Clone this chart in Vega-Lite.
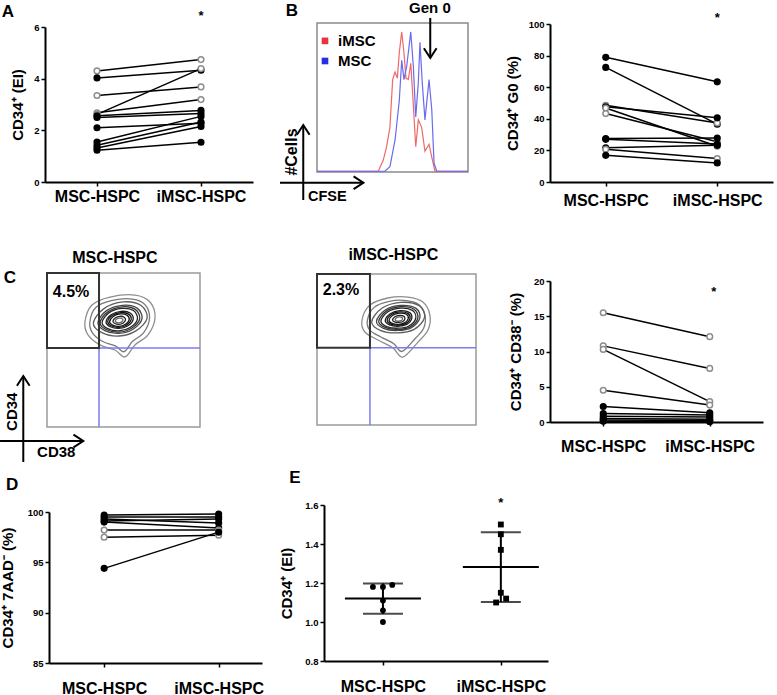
{
"$schema":"https://vega.github.io/schema/vega-lite/v6.json",
"width":777,"height":695,"autosize":{"type":"none"},"padding":0,"background":"white",
"config":{"view":{"stroke":null},"font":"Liberation Sans",
 "axis":{"grid":false,"domainColor":"black","domainWidth":2,"tickColor":"black","tickWidth":1.5,"tickSize":4,"labelColor":"black","labelFont":"Liberation Sans","labelFontWeight":"bold","labelFontSize":9.5,"labelPadding":2,"titleFont":"Liberation Sans","titleFontWeight":"bold","titleFontSize":15,"titleColor":"black","labelOverlap":false,"labelFlush":false}},
"datasets":{
 "A":[
  {"id":1,"g":"MSC-HSPC","v":4.30,"k":"o"},{"id":1,"g":"iMSC-HSPC","v":4.74,"k":"o"},
  {"id":2,"g":"MSC-HSPC","v":4.03,"k":"f"},{"id":2,"g":"iMSC-HSPC","v":4.33,"k":"f"},
  {"id":3,"g":"MSC-HSPC","v":3.35,"k":"o"},{"id":3,"g":"iMSC-HSPC","v":3.68,"k":"o"},
  {"id":4,"g":"MSC-HSPC","v":2.68,"k":"o"},{"id":4,"g":"iMSC-HSPC","v":3.19,"k":"o"},
  {"id":5,"g":"MSC-HSPC","v":2.62,"k":"o"},{"id":5,"g":"iMSC-HSPC","v":4.39,"k":"o"},
  {"id":6,"g":"MSC-HSPC","v":2.56,"k":"f"},{"id":6,"g":"iMSC-HSPC","v":2.77,"k":"f"},
  {"id":7,"g":"MSC-HSPC","v":2.50,"k":"f"},{"id":7,"g":"iMSC-HSPC","v":2.65,"k":"f"},
  {"id":8,"g":"MSC-HSPC","v":2.10,"k":"f"},{"id":8,"g":"iMSC-HSPC","v":2.27,"k":"f"},
  {"id":9,"g":"MSC-HSPC","v":1.55,"k":"f"},{"id":9,"g":"iMSC-HSPC","v":2.54,"k":"f"},
  {"id":10,"g":"MSC-HSPC","v":1.42,"k":"f"},{"id":10,"g":"iMSC-HSPC","v":2.32,"k":"f"},
  {"id":11,"g":"MSC-HSPC","v":1.32,"k":"f"},{"id":11,"g":"iMSC-HSPC","v":2.15,"k":"f"},
  {"id":12,"g":"MSC-HSPC","v":1.23,"k":"f"},{"id":12,"g":"iMSC-HSPC","v":1.54,"k":"f"}],
 "BR":[
  {"id":1,"g":"MSC-HSPC","v":78.9,"k":"f"},{"id":1,"g":"iMSC-HSPC","v":63.4,"k":"f"},
  {"id":2,"g":"MSC-HSPC","v":72.5,"k":"f"},{"id":2,"g":"iMSC-HSPC","v":36.6,"k":"f"},
  {"id":3,"g":"MSC-HSPC","v":48.6,"k":"o"},{"id":3,"g":"iMSC-HSPC","v":37.4,"k":"o"},
  {"id":4,"g":"MSC-HSPC","v":47.6,"k":"f"},{"id":4,"g":"iMSC-HSPC","v":40.6,"k":"f"},
  {"id":5,"g":"MSC-HSPC","v":46.8,"k":"o"},{"id":5,"g":"iMSC-HSPC","v":22.6,"k":"o"},
  {"id":6,"g":"MSC-HSPC","v":43.3,"k":"o"},{"id":6,"g":"iMSC-HSPC","v":25.5,"k":"o"},
  {"id":7,"g":"MSC-HSPC","v":27.5,"k":"f"},{"id":7,"g":"iMSC-HSPC","v":27.8,"k":"f"},
  {"id":8,"g":"MSC-HSPC","v":27.0,"k":"f"},{"id":8,"g":"iMSC-HSPC","v":24.0,"k":"f"},
  {"id":9,"g":"MSC-HSPC","v":21.6,"k":"f"},{"id":9,"g":"iMSC-HSPC","v":23.2,"k":"f"},
  {"id":10,"g":"MSC-HSPC","v":20.7,"k":"o"},{"id":10,"g":"iMSC-HSPC","v":14.8,"k":"o"},
  {"id":11,"g":"MSC-HSPC","v":16.9,"k":"f"},{"id":11,"g":"iMSC-HSPC","v":12.1,"k":"f"}],
 "CR":[
  {"id":1,"g":"MSC-HSPC","v":15.5,"k":"o"},{"id":1,"g":"iMSC-HSPC","v":12.1,"k":"o"},
  {"id":2,"g":"MSC-HSPC","v":10.8,"k":"o"},{"id":2,"g":"iMSC-HSPC","v":7.6,"k":"o"},
  {"id":3,"g":"MSC-HSPC","v":10.3,"k":"o"},{"id":3,"g":"iMSC-HSPC","v":2.9,"k":"o"},
  {"id":4,"g":"MSC-HSPC","v":4.5,"k":"o"},{"id":4,"g":"iMSC-HSPC","v":2.4,"k":"o"},
  {"id":5,"g":"MSC-HSPC","v":2.2,"k":"f"},{"id":5,"g":"iMSC-HSPC","v":1.3,"k":"f"},
  {"id":6,"g":"MSC-HSPC","v":1.2,"k":"f"},{"id":6,"g":"iMSC-HSPC","v":1.0,"k":"f"},
  {"id":7,"g":"MSC-HSPC","v":0.8,"k":"f"},{"id":7,"g":"iMSC-HSPC","v":0.7,"k":"f"},
  {"id":8,"g":"MSC-HSPC","v":0.5,"k":"f"},{"id":8,"g":"iMSC-HSPC","v":0.4,"k":"f"},
  {"id":9,"g":"MSC-HSPC","v":0.3,"k":"f"},{"id":9,"g":"iMSC-HSPC","v":0.2,"k":"f"},
  {"id":10,"g":"MSC-HSPC","v":0.1,"k":"f"},{"id":10,"g":"iMSC-HSPC","v":0.05,"k":"f"}],
 "D":[
  {"id":1,"g":"MSC-HSPC","v":99.7,"k":"f"},{"id":1,"g":"iMSC-HSPC","v":99.8,"k":"f"},
  {"id":2,"g":"MSC-HSPC","v":99.5,"k":"f"},{"id":2,"g":"iMSC-HSPC","v":99.5,"k":"f"},
  {"id":3,"g":"MSC-HSPC","v":99.3,"k":"f"},{"id":3,"g":"iMSC-HSPC","v":98.9,"k":"f"},
  {"id":4,"g":"MSC-HSPC","v":99.1,"k":"f"},{"id":4,"g":"iMSC-HSPC","v":99.3,"k":"f"},
  {"id":5,"g":"MSC-HSPC","v":99.0,"k":"f"},{"id":5,"g":"iMSC-HSPC","v":98.4,"k":"f"},
  {"id":6,"g":"MSC-HSPC","v":98.2,"k":"o"},{"id":6,"g":"iMSC-HSPC","v":98.2,"k":"o"},
  {"id":7,"g":"MSC-HSPC","v":97.5,"k":"o"},{"id":7,"g":"iMSC-HSPC","v":97.7,"k":"o"},
  {"id":8,"g":"MSC-HSPC","v":94.4,"k":"f"},{"id":8,"g":"iMSC-HSPC","v":98.0,"k":"f"}],
 "E":[
  {"gi":1,"xj":0.915,"v":1.18},{"gi":1,"xj":1.0,"v":1.18},{"gi":1,"xj":1.079,"v":1.19},
  {"gi":1,"xj":1.0,"v":1.11},{"gi":1,"xj":1.0,"v":1.06},{"gi":1,"xj":1.0,"v":1.00},
  {"gi":2,"xj":2.0,"v":1.50},{"gi":2,"xj":2.0,"v":1.45},{"gi":2,"xj":2.0,"v":1.37},
  {"gi":2,"xj":2.0,"v":1.15},{"gi":2,"xj":2.045,"v":1.12},{"gi":2,"xj":1.96,"v":1.10}],
 "HIST":[
  {"s":"iMSC","x":0,"y":0.5},{"s":"iMSC","x":40.6,"y":0.5},{"s":"iMSC","x":43.9,"y":8},{"s":"iMSC","x":46.1,"y":17},{"s":"iMSC","x":48.3,"y":30},{"s":"iMSC","x":50.1,"y":62},{"s":"iMSC","x":51.7,"y":67},{"s":"iMSC","x":53.2,"y":63},{"s":"iMSC","x":54.5,"y":80},{"s":"iMSC","x":56.1,"y":94},{"s":"iMSC","x":57.6,"y":80},{"s":"iMSC","x":58.9,"y":63},{"s":"iMSC","x":60.5,"y":62},{"s":"iMSC","x":62.1,"y":73},{"s":"iMSC","x":63.8,"y":45},{"s":"iMSC","x":65.4,"y":17},{"s":"iMSC","x":67.1,"y":35},{"s":"iMSC","x":69.3,"y":30},{"s":"iMSC","x":71.5,"y":14},{"s":"iMSC","x":74.2,"y":18.6},{"s":"iMSC","x":76.0,"y":10},{"s":"iMSC","x":78.1,"y":0.5},{"s":"iMSC","x":100,"y":0.5},
  {"s":"MSC","x":0,"y":0.5},{"s":"MSC","x":45,"y":0.5},{"s":"MSC","x":48.3,"y":3.6},{"s":"MSC","x":51.7,"y":21.5},{"s":"MSC","x":54.5,"y":48},{"s":"MSC","x":56.1,"y":75},{"s":"MSC","x":57.6,"y":62},{"s":"MSC","x":59.4,"y":71},{"s":"MSC","x":62.1,"y":94},{"s":"MSC","x":63.8,"y":71},{"s":"MSC","x":65.4,"y":37},{"s":"MSC","x":67.1,"y":60},{"s":"MSC","x":68.2,"y":87},{"s":"MSC","x":69.7,"y":60},{"s":"MSC","x":71.5,"y":35},{"s":"MSC","x":74.2,"y":62},{"s":"MSC","x":76.0,"y":42},{"s":"MSC","x":77.5,"y":6},{"s":"MSC","x":79.3,"y":0.5},{"s":"MSC","x":100,"y":0.5}],
 "CL":[
  {"r":1,"k":0,"x":24.8,"y":68.2},{"r":1,"k":1,"x":29.4,"y":79.2},{"r":1,"k":2,"x":41.2,"y":84.4},{"r":1,"k":3,"x":57.5,"y":85.7},{"r":1,"k":4,"x":67.3,"y":81.2},{"r":1,"k":5,"x":70.6,"y":70.8},{"r":1,"k":6,"x":66.0,"y":59.8},{"r":1,"k":7,"x":57.5,"y":53.3},{"r":1,"k":8,"x":51.0,"y":45.5},{"r":1,"k":9,"x":44.4,"y":50.0},{"r":1,"k":10,"x":34.6,"y":53.3},{"r":1,"k":11,"x":26.8,"y":59.8},
  {"r":2,"k":0,"x":28.0,"y":68.2},{"r":2,"k":1,"x":31.9,"y":77.6},{"r":2,"k":2,"x":42.0,"y":82.0},{"r":2,"k":3,"x":55.8,"y":83.1},{"r":2,"k":4,"x":64.2,"y":79.3},{"r":2,"k":5,"x":67.0,"y":70.4},{"r":2,"k":6,"x":63.1,"y":61.1},{"r":2,"k":7,"x":55.8,"y":55.5},{"r":2,"k":8,"x":50.3,"y":48.9},{"r":2,"k":9,"x":44.7,"y":52.7},{"r":2,"k":10,"x":36.4,"y":55.5},{"r":2,"k":11,"x":29.7,"y":61.1},
  {"r":3,"k":0,"x":30.3,"y":67.4},{"r":3,"k":1,"x":37.0,"y":76.7},{"r":3,"k":2,"x":49.8,"y":81.2},{"r":3,"k":3,"x":61.5,"y":78.9},{"r":3,"k":4,"x":65.4,"y":70.6},{"r":3,"k":5,"x":58.1,"y":62.4},{"r":3,"k":6,"x":47.0,"y":59.1},{"r":3,"k":7,"x":35.9,"y":61.3},
  {"r":4,"k":0,"x":33.3,"y":67.7},{"r":4,"k":1,"x":38.7,"y":75.4},{"r":4,"k":2,"x":49.3,"y":79.0},{"r":4,"k":3,"x":58.9,"y":77.2},{"r":4,"k":4,"x":62.1,"y":70.3},{"r":4,"k":5,"x":56.2,"y":63.5},{"r":4,"k":6,"x":47.0,"y":60.8},{"r":4,"k":7,"x":37.8,"y":62.6},
  {"r":5,"k":0,"x":34.7,"y":67.8},{"r":5,"k":1,"x":39.6,"y":74.7},{"r":5,"k":2,"x":49.1,"y":78.0},{"r":5,"k":3,"x":57.7,"y":76.4},{"r":5,"k":4,"x":60.6,"y":70.2},{"r":5,"k":5,"x":55.3,"y":64.1},{"r":5,"k":6,"x":47.0,"y":61.6},{"r":5,"k":7,"x":38.7,"y":63.3},
  {"r":6,"k":0,"x":36.0,"y":67.9},{"r":6,"k":1,"x":40.4,"y":74.1},{"r":6,"k":2,"x":48.8,"y":77.0},{"r":6,"k":3,"x":56.5,"y":75.6},{"r":6,"k":4,"x":59.1,"y":70.1},{"r":6,"k":5,"x":54.3,"y":64.6},{"r":6,"k":6,"x":47.0,"y":62.4},{"r":6,"k":7,"x":39.7,"y":63.9},
  {"r":7,"k":0,"x":38.6,"y":68.2},{"r":7,"k":1,"x":41.9,"y":72.9},{"r":7,"k":2,"x":48.4,"y":75.1},{"r":7,"k":3,"x":54.3,"y":74.0},{"r":7,"k":4,"x":56.3,"y":69.8},{"r":7,"k":5,"x":52.6,"y":65.6},{"r":7,"k":6,"x":47.0,"y":64.0},{"r":7,"k":7,"x":41.4,"y":65.1},
  {"r":8,"k":0,"x":39.7,"y":68.3},{"r":8,"k":1,"x":42.6,"y":72.4},{"r":8,"k":2,"x":48.2,"y":74.3},{"r":8,"k":3,"x":53.3,"y":73.3},{"r":8,"k":4,"x":55.0,"y":69.7},{"r":8,"k":5,"x":51.8,"y":66.1},{"r":8,"k":6,"x":47.0,"y":64.7},{"r":8,"k":7,"x":42.2,"y":65.6},
  {"r":9,"k":0,"x":40.9,"y":68.4},{"r":9,"k":1,"x":43.3,"y":71.8},{"r":9,"k":2,"x":48.0,"y":73.4},{"r":9,"k":3,"x":52.3,"y":72.6},{"r":9,"k":4,"x":53.7,"y":69.6},{"r":9,"k":5,"x":51.1,"y":66.6},{"r":9,"k":6,"x":47.0,"y":65.4},{"r":9,"k":7,"x":42.9,"y":66.2},
  {"r":10,"k":0,"x":43.1,"y":68.6},{"r":10,"k":1,"x":44.6,"y":70.8},{"r":10,"k":2,"x":47.7,"y":71.9},{"r":10,"k":3,"x":50.4,"y":71.3},{"r":10,"k":4,"x":51.3,"y":69.4},{"r":10,"k":5,"x":49.6,"y":67.4},{"r":10,"k":6,"x":47.0,"y":66.7},{"r":10,"k":7,"x":44.4,"y":67.2},
  {"r":11,"k":0,"x":44.6,"y":68.8},{"r":11,"k":1,"x":45.6,"y":70.1},{"r":11,"k":2,"x":47.4,"y":70.7},{"r":11,"k":3,"x":49.0,"y":70.4},{"r":11,"k":4,"x":49.6,"y":69.2},{"r":11,"k":5,"x":48.6,"y":68.1},{"r":11,"k":6,"x":47.0,"y":67.6},{"r":11,"k":7,"x":45.4,"y":67.9}],
 "CM":[
  {"r":1,"k":0,"x":28.3,"y":69.5},{"r":1,"k":1,"x":33.3,"y":79.4},{"r":1,"k":2,"x":44.6,"y":84.1},{"r":1,"k":3,"x":57.2,"y":84.7},{"r":1,"k":4,"x":66.6,"y":81.4},{"r":1,"k":5,"x":71.0,"y":72.8},{"r":1,"k":6,"x":69.8,"y":62.9},{"r":1,"k":7,"x":63.5,"y":54.9},{"r":1,"k":8,"x":54.0,"y":45.0},{"r":1,"k":9,"x":47.8,"y":51.0},{"r":1,"k":10,"x":38.3,"y":56.3},{"r":1,"k":11,"x":30.1,"y":61.6},
  {"r":2,"k":0,"x":31.7,"y":69.5},{"r":2,"k":1,"x":35.9,"y":77.9},{"r":2,"k":2,"x":45.5,"y":81.9},{"r":2,"k":3,"x":56.3,"y":82.4},{"r":2,"k":4,"x":64.2,"y":79.6},{"r":2,"k":5,"x":68.0,"y":72.3},{"r":2,"k":6,"x":67.0,"y":63.9},{"r":2,"k":7,"x":61.6,"y":57.1},{"r":2,"k":8,"x":53.5,"y":48.7},{"r":2,"k":9,"x":48.3,"y":53.8},{"r":2,"k":10,"x":40.2,"y":58.3},{"r":2,"k":11,"x":33.2,"y":62.8},
  {"r":3,"k":0,"x":34.4,"y":68.3},{"r":3,"k":1,"x":40.8,"y":77.3},{"r":3,"k":2,"x":52.6,"y":81.2},{"r":3,"k":3,"x":64.3,"y":79.0},{"r":3,"k":4,"x":67.6,"y":71.1},{"r":3,"k":5,"x":61.1,"y":63.3},{"r":3,"k":6,"x":50.4,"y":61.0},{"r":3,"k":7,"x":39.8,"y":62.7},
  {"r":4,"k":0,"x":37.4,"y":68.6},{"r":4,"k":1,"x":42.7,"y":76.0},{"r":4,"k":2,"x":52.4,"y":79.2},{"r":4,"k":3,"x":62.1,"y":77.4},{"r":4,"k":4,"x":64.7,"y":70.9},{"r":4,"k":5,"x":59.4,"y":64.5},{"r":4,"k":6,"x":50.6,"y":62.6},{"r":4,"k":7,"x":41.8,"y":64.0},
  {"r":5,"k":0,"x":38.8,"y":68.7},{"r":5,"k":1,"x":43.6,"y":75.4},{"r":5,"k":2,"x":52.3,"y":78.3},{"r":5,"k":3,"x":61.0,"y":76.7},{"r":5,"k":4,"x":63.4,"y":70.8},{"r":5,"k":5,"x":58.6,"y":65.0},{"r":5,"k":6,"x":50.7,"y":63.3},{"r":5,"k":7,"x":42.8,"y":64.6},
  {"r":6,"k":0,"x":40.2,"y":68.9},{"r":6,"k":1,"x":44.4,"y":74.8},{"r":6,"k":2,"x":52.2,"y":77.4},{"r":6,"k":3,"x":60.0,"y":75.9},{"r":6,"k":4,"x":62.1,"y":70.7},{"r":6,"k":5,"x":57.8,"y":65.6},{"r":6,"k":6,"x":50.8,"y":64.1},{"r":6,"k":7,"x":43.8,"y":65.2},
  {"r":7,"k":0,"x":42.9,"y":69.1},{"r":7,"k":1,"x":46.1,"y":73.7},{"r":7,"k":2,"x":52.1,"y":75.7},{"r":7,"k":3,"x":58.0,"y":74.6},{"r":7,"k":4,"x":59.6,"y":70.6},{"r":7,"k":5,"x":56.4,"y":66.6},{"r":7,"k":6,"x":50.9,"y":65.4},{"r":7,"k":7,"x":45.6,"y":66.3},
  {"r":8,"k":0,"x":44.1,"y":69.3},{"r":8,"k":1,"x":46.8,"y":73.2},{"r":8,"k":2,"x":52.0,"y":74.9},{"r":8,"k":3,"x":57.1,"y":73.9},{"r":8,"k":4,"x":58.5,"y":70.5},{"r":8,"k":5,"x":55.7,"y":67.1},{"r":8,"k":6,"x":51.0,"y":66.1},{"r":8,"k":7,"x":46.4,"y":66.8},
  {"r":9,"k":0,"x":45.3,"y":69.4},{"r":9,"k":1,"x":47.6,"y":72.7},{"r":9,"k":2,"x":51.9,"y":74.1},{"r":9,"k":3,"x":56.2,"y":73.3},{"r":9,"k":4,"x":57.4,"y":70.4},{"r":9,"k":5,"x":55.0,"y":67.6},{"r":9,"k":6,"x":51.1,"y":66.7},{"r":9,"k":7,"x":47.2,"y":67.3},
  {"r":10,"k":0,"x":47.5,"y":69.6},{"r":10,"k":1,"x":49.0,"y":71.7},{"r":10,"k":2,"x":51.8,"y":72.6},{"r":10,"k":3,"x":54.5,"y":72.1},{"r":10,"k":4,"x":55.3,"y":70.3},{"r":10,"k":5,"x":53.8,"y":68.4},{"r":10,"k":6,"x":51.2,"y":67.9},{"r":10,"k":7,"x":48.7,"y":68.3},
  {"r":11,"k":0,"x":49.1,"y":69.8},{"r":11,"k":1,"x":50.0,"y":71.0},{"r":11,"k":2,"x":51.7,"y":71.6},{"r":11,"k":3,"x":53.3,"y":71.3},{"r":11,"k":4,"x":53.8,"y":70.2},{"r":11,"k":5,"x":52.9,"y":69.1},{"r":11,"k":6,"x":51.3,"y":68.7},{"r":11,"k":7,"x":49.8,"y":69.0}]
},
"resolve":{"scale":{"x":"independent","y":"independent","color":"independent","fill":"independent","stroke":"independent","shape":"independent"},"axis":{"x":"independent","y":"independent"}},
"layer":[
 {"data":{"name":"A"},
  "encoding":{
   "x":{"field":"g","type":"nominal","scale":{"type":"point","domain":["MSC-HSPC","iMSC-HSPC"],"range":[45,253],"padding":0.5},"axis":{"orient":"bottom","offset":-513,"title":null,"labelAngle":0,"labelFontSize":16,"labelPadding":2}},
   "y":{"field":"v","type":"quantitative","scale":{"domain":[0,6],"range":[182,27],"nice":false,"zero":false},"axis":{"orient":"left","offset":-45,"values":[0,2,4,6],"title":"CD34⁺ (EI)","titlePadding":8.7}}},
  "layer":[
   {"mark":{"type":"line","color":"black","strokeWidth":1.5},"encoding":{"detail":{"field":"id","type":"nominal"}}},
   {"mark":{"type":"circle","size":32,"strokeWidth":1.5,"opacity":1},"encoding":{"fill":{"field":"k","type":"nominal","scale":{"domain":["o","f"],"range":["white","black"]},"legend":null},"stroke":{"field":"k","type":"nominal","scale":{"domain":["o","f"],"range":["#8c8c8c","black"]},"legend":null}}},
   {"data":{"values":[{"g":"MSC-HSPC","v":6.6,"t":"A"}]},"mark":{"type":"text","font":"Liberation Sans","fontWeight":"bold","fontSize":17,"align":"center","baseline":"middle","color":"black","dx":-89},"encoding":{"text":{"field":"t"}}},
   {"data":{"values":[{"g":"iMSC-HSPC","v":6.43,"t":"*"}]},"mark":{"type":"text","font":"Liberation Sans","fontWeight":"bold","fontSize":13,"align":"center","baseline":"middle","color":"black"},"encoding":{"text":{"field":"t"}}}
  ]},
 {"encoding":{
   "x":{"field":"x","type":"quantitative","scale":{"domain":[0,100],"range":[317,468],"nice":false,"zero":false},"axis":null},
   "y":{"field":"y","type":"quantitative","scale":{"domain":[0,100],"range":[172,23],"nice":false,"zero":false},"axis":null}},
  "layer":[
   {"data":{"values":[{"x":0,"x2":100,"y":0,"y2":100}]},"mark":{"type":"rect","fillOpacity":0,"stroke":"#8a8a8a","strokeWidth":1.5},"encoding":{"x2":{"field":"x2"},"y2":{"field":"y2"}}},
   {"data":{"name":"HIST"},"mark":{"type":"line","strokeWidth":1.2},"encoding":{"color":{"field":"s","type":"nominal","scale":{"domain":["iMSC","MSC"],"range":["#f06868","#6a6af0"]},"legend":null}}},
   {"data":{"values":[{"s":"iMSC","x":5.3,"y":88},{"s":"MSC","x":5.3,"y":74.5}]},"mark":{"type":"point","shape":"square","filled":true,"size":44,"opacity":1},"encoding":{"fill":{"field":"s","type":"nominal","scale":{"domain":["iMSC","MSC"],"range":["#e8323c","#2b2bdf"]},"legend":null}}},
   {"data":{"values":[{"s":"iMSC","x":5.3,"y":88},{"s":"MSC","x":5.3,"y":74.5}]},"mark":{"type":"text","font":"Liberation Sans","fontWeight":"bold","fontSize":15,"align":"left","baseline":"middle","color":"black","dx":13},"encoding":{"text":{"field":"s"}}},
   {"data":{"values":[{"x":75,"x2":75,"y":103.4,"y2":76.5},{"x":-9.1,"x2":-9.1,"y":-18.8,"y2":31.5},{"x":-24.5,"x2":30.7,"y":-7.2,"y2":-7.2}]},"mark":{"type":"rule","color":"black","strokeWidth":2},"encoding":{"x2":{"field":"x2"},"y2":{"field":"y2"}}},
   {"data":{"values":[{"x":75,"y":76.5,"d":"down"},{"x":-9.1,"y":31.5,"d":"up"},{"x":30.7,"y":-7.2,"d":"right"}]},"mark":{"type":"point","filled":false,"color":"black","strokeWidth":2,"size":380,"opacity":1},"encoding":{"shape":{"field":"d","type":"nominal","scale":{"domain":["up","down","right"],"range":["M-0.65,1L0,0L0.65,1","M-0.65,-1L0,0L0.65,-1","M-1,-0.65L0,0L-1,0.65"]},"legend":null}}},
   {"data":{"values":[{"x":-16.6,"y":108,"t":"B"}]},"mark":{"type":"text","font":"Liberation Sans","fontWeight":"bold","fontSize":17,"align":"center","baseline":"middle","color":"black"},"encoding":{"text":{"field":"t"}}},
   {"data":{"values":[{"x":74.8,"y":110,"t":"Gen 0"}]},"mark":{"type":"text","font":"Liberation Sans","fontWeight":"bold","fontSize":15,"align":"center","baseline":"middle","color":"black"},"encoding":{"text":{"field":"t"}}},
   {"data":{"values":[{"x":-16.6,"y":13.4,"t":"#Cells"}]},"mark":{"type":"text","font":"Liberation Sans","fontWeight":"bold","fontSize":16,"align":"center","baseline":"middle","angle":270,"color":"black"},"encoding":{"text":{"field":"t"}}},
   {"data":{"values":[{"x":-6,"y":-17.1,"t":"CFSE"}]},"mark":{"type":"text","font":"Liberation Sans","fontWeight":"bold","fontSize":14.5,"align":"left","baseline":"middle","color":"black"},"encoding":{"text":{"field":"t"}}}
  ]},
 {"data":{"name":"BR"},
  "encoding":{
   "x":{"field":"g","type":"nominal","scale":{"type":"point","domain":["MSC-HSPC","iMSC-HSPC"],"range":[550,773],"padding":0.5},"axis":{"orient":"bottom","offset":-513,"title":null,"labelAngle":0,"labelFontSize":16,"labelPadding":6}},
   "y":{"field":"v","type":"quantitative","scale":{"domain":[0,100],"range":[182,24],"nice":false,"zero":false},"axis":{"orient":"left","offset":-550,"values":[0,20,40,60,80,100],"title":"CD34⁺ G0 (%)","titlePadding":8}}},
  "layer":[
   {"mark":{"type":"line","color":"black","strokeWidth":1.5},"encoding":{"detail":{"field":"id","type":"nominal"}}},
   {"mark":{"type":"circle","size":32,"strokeWidth":1.5,"opacity":1},"encoding":{"fill":{"field":"k","type":"nominal","scale":{"domain":["o","f"],"range":["white","black"]},"legend":null},"stroke":{"field":"k","type":"nominal","scale":{"domain":["o","f"],"range":["#8c8c8c","black"]},"legend":null}}},
   {"data":{"values":[{"g":"iMSC-HSPC","v":103.8,"t":"*"}]},"mark":{"type":"text","font":"Liberation Sans","fontWeight":"bold","fontSize":13,"align":"center","baseline":"middle","color":"black"},"encoding":{"text":{"field":"t"}}}
  ]},
 {"encoding":{
   "x":{"field":"x","type":"quantitative","scale":{"domain":[0,100],"range":[47,200],"nice":false,"zero":false},"axis":null},
   "y":{"field":"y","type":"quantitative","scale":{"domain":[0,100],"range":[427,273],"nice":false,"zero":false},"axis":null}},
  "layer":[
   {"data":{"values":[{"x":0,"x2":100,"y":0,"y2":100}]},"mark":{"type":"rect","fillOpacity":0,"stroke":"#9a9a9a","strokeWidth":1.5},"encoding":{"x2":{"field":"x2"},"y2":{"field":"y2"}}},
   {"data":{"name":"CL"},"mark":{"type":"line","interpolate":"cardinal-closed","strokeWidth":1.3},"encoding":{"color":{"field":"r","type":"ordinal","scale":{"domain":[1,2,3,4,5,6,7,8,9,10,11],"range":["#8e8e8e","#7a7a7a","#5e5e5e","#454545","#333333","#262626","#1c1c1c","#151515","#111111","#222222","#666666"]},"legend":null},"order":{"field":"k","type":"quantitative"}}},
   {"data":{"values":[{"x":34,"x2":34,"y":0,"y2":80},{"x":34,"x2":100,"y":51.3,"y2":51.3}]},"mark":{"type":"rule","color":"#7b7bf0","strokeWidth":1.5},"encoding":{"x2":{"field":"x2"},"y2":{"field":"y2"}}},
   {"data":{"values":[{"x":0,"x2":34,"y":51.3,"y2":100}]},"mark":{"type":"rect","fillOpacity":0,"stroke":"#333333","strokeWidth":2},"encoding":{"x2":{"field":"x2"},"y2":{"field":"y2"}}},
   {"data":{"values":[{"x":-15.5,"x2":-15.5,"y":-22.7,"y2":33.1},{"x":-30.7,"x2":23.7,"y":-9.1,"y2":-9.1}]},"mark":{"type":"rule","color":"black","strokeWidth":2},"encoding":{"x2":{"field":"x2"},"y2":{"field":"y2"}}},
   {"data":{"values":[{"x":-15.5,"y":33.1,"d":"up"},{"x":23.7,"y":-9.1,"d":"right"}]},"mark":{"type":"point","filled":false,"color":"black","strokeWidth":2,"size":380,"opacity":1},"encoding":{"shape":{"field":"d","type":"nominal","scale":{"domain":["up","down","right"],"range":["M-0.65,1L0,0L0.65,1","M-0.65,-1L0,0L0.65,-1","M-1,-0.65L0,0L-1,0.65"]},"legend":null}}},
   {"data":{"values":[{"x":-24.2,"y":96.8,"t":"C"}]},"mark":{"type":"text","font":"Liberation Sans","fontWeight":"bold","fontSize":17,"align":"center","baseline":"middle","color":"black"},"encoding":{"text":{"field":"t"}}},
   {"data":{"values":[{"x":44.4,"y":109.7,"t":"MSC-HSPC"},{"x":15.7,"y":87.9,"t":"4.5%"}]},"mark":{"type":"text","font":"Liberation Sans","fontWeight":"bold","fontSize":16,"align":"center","baseline":"middle","color":"black"},"encoding":{"text":{"field":"t"}}},
   {"data":{"values":[{"x":-23.1,"y":9.9,"t":"CD34"}]},"mark":{"type":"text","font":"Liberation Sans","fontWeight":"bold","fontSize":15,"align":"center","baseline":"middle","angle":270,"color":"black"},"encoding":{"text":{"field":"t"}}},
   {"data":{"values":[{"x":-6.5,"y":-16.2,"t":"CD38"}]},"mark":{"type":"text","font":"Liberation Sans","fontWeight":"bold","fontSize":15,"align":"left","baseline":"middle","color":"black"},"encoding":{"text":{"field":"t"}}}
  ]},
 {"encoding":{
   "x":{"field":"x","type":"quantitative","scale":{"domain":[0,100],"range":[317,476],"nice":false,"zero":false},"axis":null},
   "y":{"field":"y","type":"quantitative","scale":{"domain":[0,100],"range":[425,274],"nice":false,"zero":false},"axis":null}},
  "layer":[
   {"data":{"values":[{"x":0,"x2":100,"y":0,"y2":100}]},"mark":{"type":"rect","fillOpacity":0,"stroke":"#9a9a9a","strokeWidth":1.5},"encoding":{"x2":{"field":"x2"},"y2":{"field":"y2"}}},
   {"data":{"name":"CM"},"mark":{"type":"line","interpolate":"cardinal-closed","strokeWidth":1.3},"encoding":{"color":{"field":"r","type":"ordinal","scale":{"domain":[1,2,3,4,5,6,7,8,9,10,11],"range":["#8e8e8e","#7a7a7a","#5e5e5e","#454545","#333333","#262626","#1c1c1c","#151515","#111111","#222222","#666666"]},"legend":null},"order":{"field":"k","type":"quantitative"}}},
   {"data":{"values":[{"x":33.3,"x2":33.3,"y":0,"y2":80.8},{"x":33.3,"x2":100,"y":51.2,"y2":51.2}]},"mark":{"type":"rule","color":"#7b7bf0","strokeWidth":1.5},"encoding":{"x2":{"field":"x2"},"y2":{"field":"y2"}}},
   {"data":{"values":[{"x":0,"x2":33.3,"y":51.2,"y2":100}]},"mark":{"type":"rect","fillOpacity":0,"stroke":"#333333","strokeWidth":2},"encoding":{"x2":{"field":"x2"},"y2":{"field":"y2"}}},
   {"data":{"values":[{"x":48,"y":112.6,"t":"iMSC-HSPC"},{"x":15.1,"y":89.4,"t":"2.3%"}]},"mark":{"type":"text","font":"Liberation Sans","fontWeight":"bold","fontSize":16,"align":"center","baseline":"middle","color":"black"},"encoding":{"text":{"field":"t"}}}
  ]},
 {"data":{"name":"CR"},
  "encoding":{
   "x":{"field":"g","type":"nominal","scale":{"type":"point","domain":["MSC-HSPC","iMSC-HSPC"],"range":[550,763],"padding":0.5},"axis":{"orient":"bottom","offset":-273,"title":null,"labelAngle":0,"labelFontSize":16,"labelPadding":12}},
   "y":{"field":"v","type":"quantitative","scale":{"domain":[0,20],"range":[422,281],"nice":false,"zero":false},"axis":{"orient":"left","offset":-550,"values":[0,5,10,15,20],"title":"CD34⁺ CD38⁻ (%)","titlePadding":10.4}}},
  "layer":[
   {"mark":{"type":"line","color":"black","strokeWidth":1.5},"encoding":{"detail":{"field":"id","type":"nominal"}}},
   {"mark":{"type":"circle","size":32,"strokeWidth":1.5,"opacity":1},"encoding":{"fill":{"field":"k","type":"nominal","scale":{"domain":["o","f"],"range":["white","black"]},"legend":null},"stroke":{"field":"k","type":"nominal","scale":{"domain":["o","f"],"range":["#8c8c8c","black"]},"legend":null}}},
   {"data":{"values":[{"g":"iMSC-HSPC","v":18.5,"t":"*"}]},"mark":{"type":"text","font":"Liberation Sans","fontWeight":"bold","fontSize":13,"align":"center","baseline":"middle","color":"black","dx":4},"encoding":{"text":{"field":"t"}}}
  ]},
 {"data":{"name":"D"},
  "encoding":{
   "x":{"field":"g","type":"nominal","scale":{"type":"point","domain":["MSC-HSPC","iMSC-HSPC"],"range":[49,262],"padding":0.43,"align":0.56},"axis":{"orient":"bottom","offset":-32,"title":null,"labelAngle":0,"labelFontSize":16,"labelPadding":13}},
   "y":{"field":"v","type":"quantitative","scale":{"domain":[85,100],"range":[663,512],"nice":false,"zero":false},"axis":{"orient":"left","offset":-49,"values":[85,90,95,100],"title":"CD34⁺ 7AAD⁻ (%)","titlePadding":12}}},
  "layer":[
   {"mark":{"type":"line","color":"black","strokeWidth":1.5},"encoding":{"detail":{"field":"id","type":"nominal"}}},
   {"mark":{"type":"circle","size":32,"strokeWidth":1.5,"opacity":1},"encoding":{"fill":{"field":"k","type":"nominal","scale":{"domain":["o","f"],"range":["white","black"]},"legend":null},"stroke":{"field":"k","type":"nominal","scale":{"domain":["o","f"],"range":["#8c8c8c","black"]},"legend":null}}},
   {"data":{"values":[{"g":"MSC-HSPC","v":102.7,"t":"D"}]},"mark":{"type":"text","font":"Liberation Sans","fontWeight":"bold","fontSize":17,"align":"center","baseline":"middle","color":"black","dx":-92},"encoding":{"text":{"field":"t"}}}
  ]},
 {"data":{"name":"E"},
  "encoding":{
   "x":{"field":"xj","type":"quantitative","scale":{"domain":[0.5,2.4],"range":[324,548],"nice":false,"zero":false},"axis":{"orient":"bottom","offset":-34,"title":null,"values":[1,2],"labelExpr":"datum.value == 1 ? 'MSC-HSPC' : 'iMSC-HSPC'","labelAngle":0,"labelFontSize":16,"labelPadding":13}},
   "y":{"field":"v","type":"quantitative","scale":{"domain":[0.8,1.6],"range":[661,505],"nice":false,"zero":false},"axis":{"orient":"left","offset":-324,"values":[0.8,1.0,1.2,1.4,1.6],"format":".1f","title":"CD34⁺ (EI)","titlePadding":9.8}}},
  "layer":[
   {"mark":{"type":"errorbar","extent":"stdev","ticks":{"size":40,"thickness":2,"color":"black"},"rule":{"strokeWidth":2,"color":"black"}},
    "encoding":{
     "x":{"field":"gi","type":"quantitative","scale":{"domain":[0.5,2.4],"range":[324,548],"nice":false,"zero":false},"axis":{"orient":"bottom","offset":-34,"title":null,"values":[1,2],"labelExpr":"datum.value == 1 ? 'MSC-HSPC' : 'iMSC-HSPC'","labelAngle":0,"labelFontSize":16,"labelPadding":13}},
     "y":{"field":"v","type":"quantitative","scale":{"domain":[0.8,1.6],"range":[661,505],"nice":false,"zero":false},"axis":{"orient":"left","offset":-324,"values":[0.8,1.0,1.2,1.4,1.6],"format":".1f","title":"CD34⁺ (EI)","titlePadding":9.8}}}},
   {"mark":{"type":"tick","orient":"horizontal","size":76,"thickness":2,"color":"black","opacity":1},
    "encoding":{
     "x":{"field":"gi","type":"quantitative","scale":{"domain":[0.5,2.4],"range":[324,548],"nice":false,"zero":false},"axis":{"orient":"bottom","offset":-34,"title":null,"values":[1,2],"labelExpr":"datum.value == 1 ? 'MSC-HSPC' : 'iMSC-HSPC'","labelAngle":0,"labelFontSize":16,"labelPadding":13}},
     "y":{"aggregate":"mean","field":"v","type":"quantitative","scale":{"domain":[0.8,1.6],"range":[661,505],"nice":false,"zero":false},"axis":{"orient":"left","offset":-324,"values":[0.8,1.0,1.2,1.4,1.6],"format":".1f","title":"CD34⁺ (EI)","titlePadding":9.8}}}},
   {"mark":{"type":"point","filled":true,"size":34,"color":"black","opacity":1},"encoding":{"shape":{"field":"gi","type":"nominal","scale":{"domain":[1,2],"range":["circle","square"]},"legend":null}}},
   {"data":{"values":[{"xj":0.254,"v":1.736,"t":"E"}]},"mark":{"type":"text","font":"Liberation Sans","fontWeight":"bold","fontSize":17,"align":"center","baseline":"middle","color":"black"},"encoding":{"text":{"field":"t"}}},
   {"data":{"values":[{"xj":2.0,"v":1.61,"t":"*"}]},"mark":{"type":"text","font":"Liberation Sans","fontWeight":"bold","fontSize":13,"align":"center","baseline":"middle","color":"black"},"encoding":{"text":{"field":"t"}}}
  ]}
]
}
